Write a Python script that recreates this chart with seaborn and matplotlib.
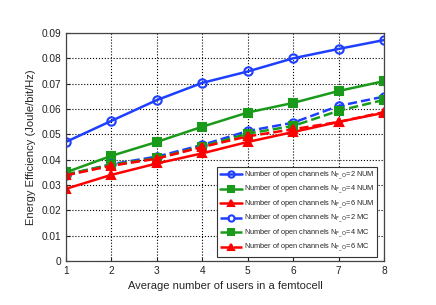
import matplotlib
matplotlib.use("Agg")
import matplotlib.pyplot as plt
import pandas as pd
import seaborn as sns

users = [1, 2, 3, 4, 5, 6, 7, 8]
num_n2 = [0.0470, 0.0553, 0.0635, 0.0703, 0.0748, 0.0800, 0.0837, 0.0872]
num_n4 = [0.0350, 0.0415, 0.0470, 0.0530, 0.0586, 0.0624, 0.0671, 0.0710]
num_n6 = [0.0285, 0.0340, 0.0385, 0.0425, 0.0470, 0.0509, 0.0549, 0.0585]
mc_n2 = [0.0340, 0.0382, 0.0412, 0.0458, 0.0513, 0.0546, 0.0612, 0.0649]
mc_n4 = [0.0342, 0.0380, 0.0406, 0.0452, 0.0503, 0.0533, 0.0593, 0.0636]
mc_n6 = [0.0338, 0.0376, 0.0404, 0.0450, 0.0492, 0.0520, 0.0549, 0.0588]

lab = r"Number of open channels N$_{\mathrm{F\_O}}$"
series = [
    (lab + "=2 NUM", num_n2),
    (lab + "=4 NUM", num_n4),
    (lab + "=6 NUM", num_n6),
    (lab + "=2 MC", mc_n2),
    (lab + "=4 MC", mc_n4),
    (lab + "=6 MC", mc_n6),
]

sns.set_style("ticks")
plt.rcParams["font.family"] = ["Liberation Sans", "DejaVu Sans"]

fig = plt.figure(figsize=(4.36, 3.05), dpi=100)
ax = fig.add_axes([0.151, 0.144, 0.730, 0.748])

blue = "#1f3fff"
green = "#1a9a1a"
red = "#ff0000"
styles = [
    (blue, "o", "-", "none"),
    (green, "s", "-", green),
    (red, "^", "-", red),
    (blue, "o", "--", "none"),
    (green, "s", "--", green),
    (red, "^", "--", red),
]

for (name, vals), (c, m, ls, fc) in zip(series, styles):
    df = pd.DataFrame({"x": users, "y": vals})
    sns.lineplot(data=df, x="x", y="y", ax=ax, color=c, marker=m, linestyle=ls,
                 linewidth=1.8, markersize=6, markerfacecolor=fc,
                 markeredgecolor=c, markeredgewidth=1.5, label=name)

ax.set_xlim(1, 8)
ax.set_ylim(0, 0.09)
ax.set_xticks(range(1, 9))
ax.set_yticks([0, 0.01, 0.02, 0.03, 0.04, 0.05, 0.06, 0.07, 0.08, 0.09])
ax.set_yticklabels(["0", "0.01", "0.02", "0.03", "0.04", "0.05", "0.06", "0.07", "0.08", "0.09"])
ax.tick_params(labelsize=7.3, direction="in", length=3, colors="#222222")
ax.grid(True, linestyle=":", color="black", linewidth=0.8)
for sp in ax.spines.values():
    sp.set_color("#444444")
    sp.set_linewidth(0.9)
ax.set_xlabel("Average number of users in a femtocell", fontsize=8, labelpad=4)
ax.set_ylabel("Energy Efficiency (Joule/bit/Hz)", fontsize=8, labelpad=4)

leg = ax.legend(loc="lower right", fontsize=5.3, frameon=True, fancybox=False,
                edgecolor="#333333", framealpha=1, handlelength=3.0,
                handletextpad=0.3, markerscale=0.75,
                borderpad=0.4, labelspacing=0.32, bbox_to_anchor=(0.99, 0.0))
leg.get_frame().set_linewidth(0.8)

fig.savefig("out.png", dpi=100)
